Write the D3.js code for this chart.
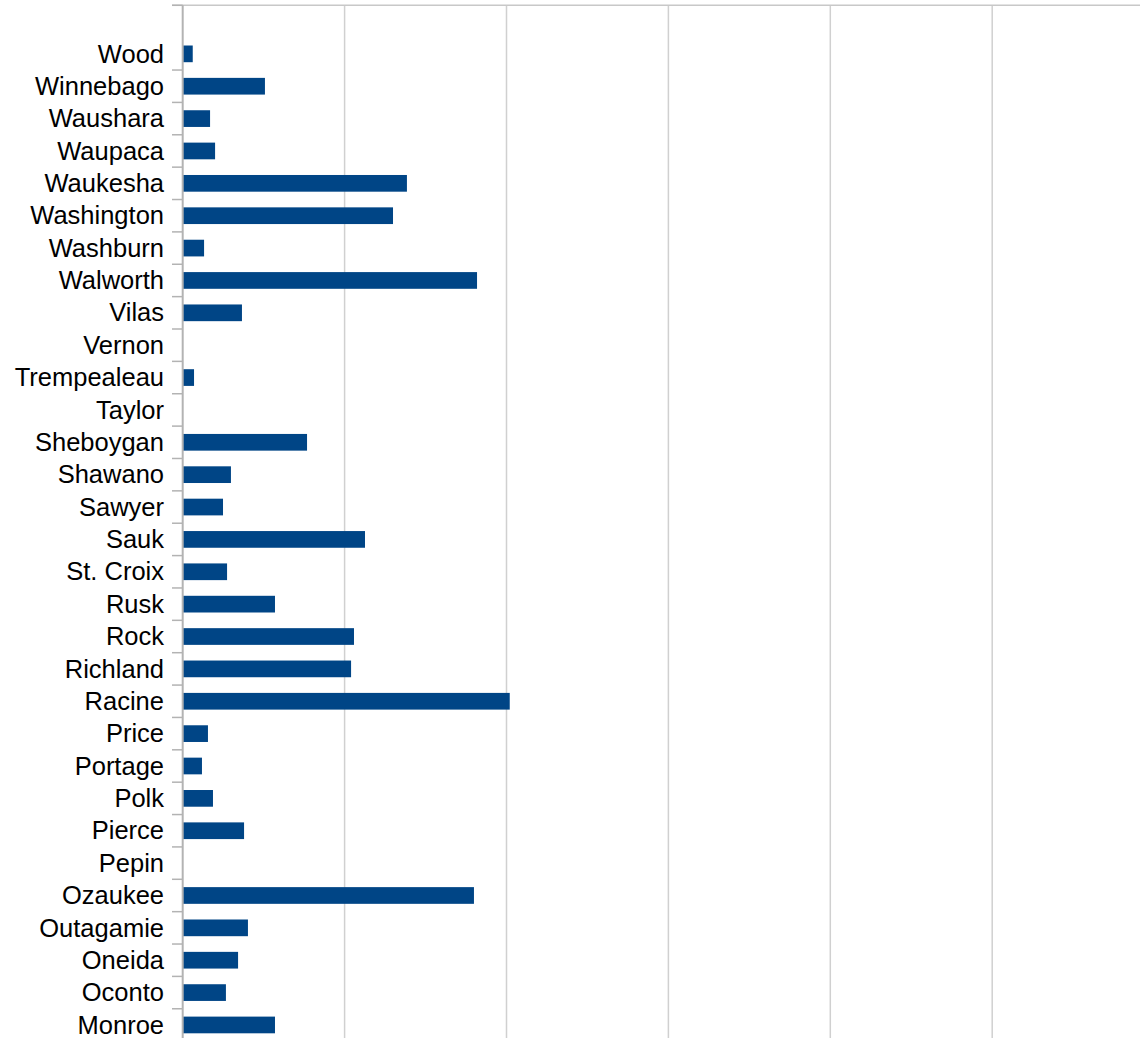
<!DOCTYPE html>
<html>
<head>
<meta charset="utf-8">
<script src="https://cdn.jsdelivr.net/npm/d3@7"></script>
<style>
  html, body { margin: 0; padding: 0; background: #fff; overflow: hidden; }
  svg { display: block; }
</style>
</head>
<body>
<div id="chart"></div>
<script>
const categories = ["Wood","Winnebago","Waushara","Waupaca","Waukesha","Washington","Washburn","Walworth","Vilas","Vernon","Trempealeau","Taylor","Sheboygan","Shawano","Sawyer","Sauk","St. Croix","Rusk","Rock","Richland","Racine","Price","Portage","Polk","Pierce","Pepin","Ozaukee","Outagamie","Oneida","Oconto","Monroe"];
const values = [0.62,5.08,1.69,2.0,13.85,12.99,1.32,18.18,3.66,0,0.70,0,7.68,2.98,2.49,11.26,2.74,5.70,10.58,10.4,20.2,1.56,1.19,1.87,3.79,0,17.99,4.03,3.42,2.67,5.70];
const gridTicks = [0,10,20,30,40,50,60];

(function () {
const W = 1140, H = 1038;
const plotTop = 5.3, step = 32.37;
const x0 = 182.7, gridStep = 161.9;

const svg = d3.select("#chart").append("svg").attr("width", W).attr("height", H);

const x = d3.scaleLinear().domain([0, 60]).range([x0, x0 + 6 * gridStep]);
const y = d3.scaleBand().domain(categories)
  .range([plotTop + step, plotTop + step * (categories.length + 1)])
  .paddingInner(0).paddingOuter(0);

const plotBottom = plotTop + step * (categories.length + 1);

// vertical gridlines
svg.append("g").selectAll("line").data(gridTicks.filter(d => d > 0)).join("line")
  .attr("x1", d => x(d)).attr("x2", d => x(d))
  .attr("y1", plotTop).attr("y2", plotBottom)
  .attr("stroke", "#d0d0d0").attr("stroke-width", 1.5);

// top border line
svg.append("line")
  .attr("x1", 172).attr("x2", W).attr("y1", plotTop).attr("y2", plotTop)
  .attr("stroke", "#c8c8c8").attr("stroke-width", 1.5);

// bars
svg.append("g").selectAll("rect").data(categories).join("rect")
  .attr("x", x(0))
  .attr("y", (d) => y(d) + y.bandwidth() * 0.242)
  .attr("width", (d, i) => x(values[i]) - x(0))
  .attr("height", y.bandwidth() * 0.516)
  .attr("fill", "#004586");

// category ticks at band boundaries
const tickYs = [plotTop].concat(categories.map(d => y(d) + y.bandwidth()));
svg.append("g").selectAll("line").data(tickYs).join("line")
  .attr("x1", 172).attr("x2", x0)
  .attr("y1", d => d).attr("y2", d => d)
  .attr("stroke", "#b3b3b3").attr("stroke-width", 1.5);

// axis line
svg.append("line")
  .attr("x1", x0).attr("x2", x0).attr("y1", plotTop).attr("y2", plotBottom)
  .attr("stroke", "#b3b3b3").attr("stroke-width", 2);

// labels
svg.append("g").selectAll("text").data(categories).join("text")
  .attr("x", 164)
  .attr("y", d => y(d) + y.bandwidth() / 2)
  .attr("dy", "0.34em")
  .attr("text-anchor", "end")
  .attr("font-family", "'Liberation Sans', Arial, sans-serif")
  .attr("font-size", 25.5)
  .attr("fill", "#000")
  .text(d => d);
})();
</script>
</body>
</html>
